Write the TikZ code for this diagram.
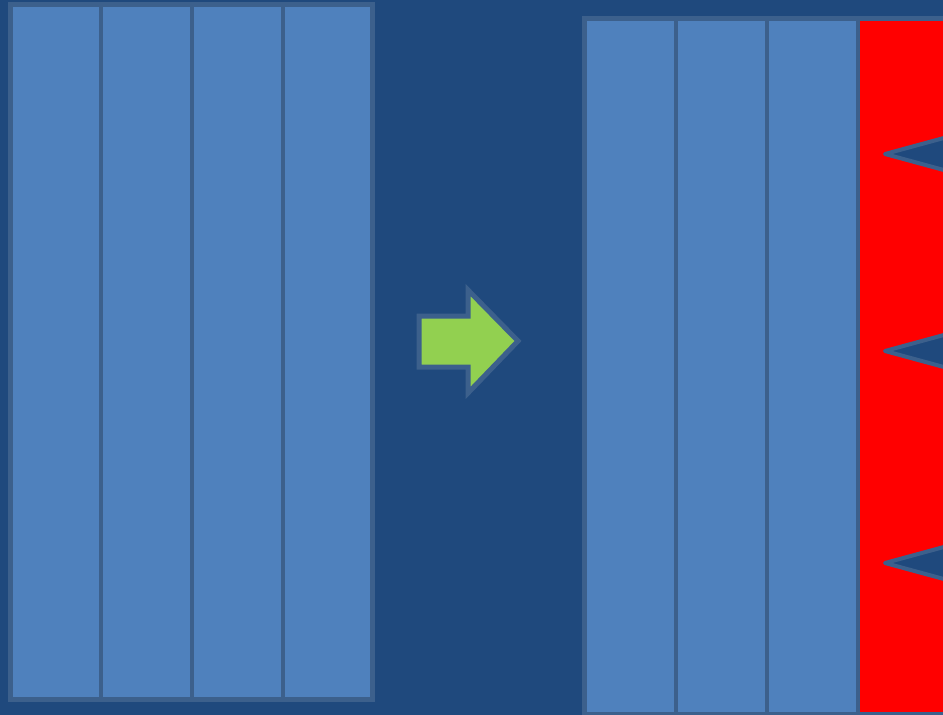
\documentclass[tikz,border=0pt]{standalone}
\usepackage{tikz}
\definecolor{bgblue}{RGB}{31,73,125}
\definecolor{colblue}{RGB}{79,129,189}
\definecolor{edgeblue}{RGB}{60,96,140}
\definecolor{arrowgreen}{RGB}{146,208,80}

\begin{document}
\begin{tikzpicture}[x=1pt, y=-1pt, line join=miter,
  frame/.style={draw=edgeblue, line width=5pt},
  divider/.style={edgeblue, line width=4pt}]
% page and background
\useasboundingbox (0,0) rectangle (943,715);
\fill[bgblue] (0,0) rectangle (943,715);
\clip (0,0) rectangle (943,715);
% left block, four columns
\fill[colblue] (10.5,4) rectangle (372.5,699.5);
\foreach \x in {101,192,283}
  \draw[divider] (\x,4) -- (\x,699.5);
\draw[frame] (10.5,4) rectangle (372.5,699.5);
% green arrow
\filldraw[fill=arrowgreen, frame]
  (419,316) -- (468,316) -- (468,290) -- (518,341)
  -- (468,393) -- (468,367) -- (419,367) -- cycle;
% right block, three columns and the red one
\fill[colblue] (584.5,18.5) rectangle (858,714.5);
\fill[red] (858,18.5) rectangle (960,714.5);
\foreach \x in {676,767,858}
  \draw[divider] (\x,18.5) -- (\x,714.5);
\draw[frame] (584.5,18.5) rectangle (960,714.5);
% wedges in the red column
\foreach \y in {154,351,563}
  \filldraw[fill=bgblue, frame, line width=4pt, line join=round]
    (885,\y) -- (1010,\y-34) -- (1010,\y+34) -- cycle;
\end{tikzpicture}
\end{document}
